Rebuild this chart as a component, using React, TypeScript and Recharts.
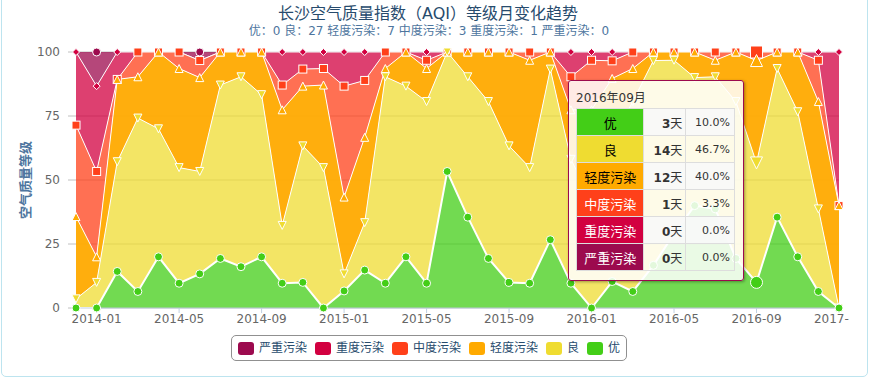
import React from 'react';
import { AreaChart, Area, XAxis, YAxis, CartesianGrid, Tooltip } from 'recharts';

const FONT = '"DejaVu Sans", "Noto Sans CJK SC", sans-serif';

// months on the x axis (first point is Dec 2013, ticks start at 2014-01)
const months = [
  '2013-12',
  '2014-01', '2014-02', '2014-03', '2014-04', '2014-05', '2014-06',
  '2014-07', '2014-08', '2014-09', '2014-10', '2014-11', '2014-12',
  '2015-01', '2015-02', '2015-03', '2015-04', '2015-05', '2015-06',
  '2015-07', '2015-08', '2015-09', '2015-10', '2015-11', '2015-12',
  '2016-01', '2016-02', '2016-03', '2016-04', '2016-05', '2016-06',
  '2016-07', '2016-08', '2016-09', '2016-10', '2016-11', '2016-12',
  '2017-01',
];

// days per month in each AQI level
const excellent = [0, 0, 4, 2, 6, 3, 4, 6, 5, 6, 3, 3, 0, 2, 4, 3, 6, 3, 16, 11, 6, 3, 3, 8, 3, 0, 3, 2, 5, 9, 12, 12, 6, 3, 11, 6, 2, 0];
const good = [1, 3, 12, 21, 15, 14, 12, 21, 23, 19, 7, 16, 17, 2, 5, 25, 20, 22, 14, 17, 19, 16, 14, 20, 15, 13, 16, 23, 24, 21, 15, 16, 19, 14, 18, 17, 10, 0];
const light = [9, 3, 9, 5, 9, 12, 11, 4, 3, 5, 14, 7, 10, 9, 9, 1, 4, 4, 0, 3, 6, 11, 13, 2, 6, 11, 7, 4, 1, 1, 3, 2, 6, 12, 2, 7, 13, 2];
const moderate = [10, 10, 0, 3, 0, 2, 2, 0, 0, 0, 3, 2, 2, 13, 6, 2, 0, 1, 0, 0, 0, 0, 1, 0, 4, 6, 2, 2, 0, 0, 0, 1, 0, 1, 0, 0, 5, 0];
const heavy = [8, 10, 3, 0, 0, 0, 0, 0, 0, 0, 4, 2, 2, 4, 3, 0, 0, 1, 0, 0, 0, 0, 0, 0, 3, 1, 1, 0, 0, 0, 0, 0, 0, 0, 0, 0, 1, 3];
const severe = [0, 4, 0, 0, 0, 0, 1, 0, 0, 0, 0, 0, 0, 0, 0, 0, 0, 0, 0, 0, 0, 0, 0, 0, 0, 0, 0, 0, 0, 0, 0, 0, 0, 0, 0, 0, 0, 0];

const tickIndexes = months.map((_, i) => i).filter((i) => i % 4 === 1);

// legend / drawing order: top of the stack first
const levels = [
  { key: 'severe', name: '严重污染', color: '#9c0a4e', shape: 'circle', r: 4, text: '#fff', opacity: 0.75 },
  { key: 'heavy', name: '重度污染', color: '#d20040', shape: 'diamond', r: 4, text: '#fff', opacity: 0.75 },
  { key: 'moderate', name: '中度污染', color: '#ff401a', shape: 'square', r: 4, text: '#fff', opacity: 0.75 },
  { key: 'light', name: '轻度污染', color: '#ffaa00', shape: 'triangle', r: 4, text: '#000', opacity: 0.95 },
  { key: 'good', name: '良', color: '#efdc31', shape: 'triangle-down', r: 4, text: '#000', opacity: 0.75 },
  { key: 'excellent', name: '优', color: '#43ce17', shape: 'circle', r: 4, text: '#000', opacity: 0.75 },
];

const rows = months.map((m, i) => ({
  i,
  month: m,
  excellent: excellent[i],
  good: good[i],
  light: light[i],
  moderate: moderate[i],
  heavy: heavy[i],
  severe: severe[i],
}));

function marker(shape: string, cx: number, cy: number, r: number, fill: string, key?: string) {
  const common = { fill, stroke: '#fff', strokeWidth: 1 };
  if (shape === 'circle') return <circle key={key} cx={cx} cy={cy} r={r} {...common} />;
  if (shape === 'square') return <rect key={key} x={cx - r} y={cy - r} width={r * 2} height={r * 2} {...common} />;
  if (shape === 'triangle')
    return <path key={key} d={`M${cx},${cy - r}L${cx + r},${cy + r}L${cx - r},${cy + r}Z`} {...common} />;
  if (shape === 'triangle-down')
    return <path key={key} d={`M${cx - r},${cy - r}L${cx + r},${cy - r}L${cx},${cy + r}Z`} {...common} />;
  return <path key={key} d={`M${cx},${cy - r}L${cx + r},${cy}L${cx},${cy + r}L${cx - r},${cy}Z`} {...common} />;
}

const AqiTooltip = ({ active, payload }: any) => {
  if (!active || !payload || !payload.length) return null;
  const row = payload[0].payload;
  const total = levels.reduce((s, l) => s + row[l.key], 0);
  const [y, m] = row.month.split('-');
  const bottomFirst = [...levels].reverse();
  return (
    <div
      style={{
        width: 159,
        padding: '7px 8px 9px 7px',
        background: 'rgba(255,255,255,0.85)',
        border: '1px solid #9c0a4e',
        borderRadius: 3,
        boxShadow: '1px 1px 3px rgba(0,0,0,0.35)',
        fontFamily: FONT,
        color: '#333',
      }}
    >
      <div style={{ fontSize: 12, lineHeight: '20px', height: 20 }}>{`${y}年${m}月`}</div>
      <table style={{ borderCollapse: 'collapse', fontSize: 12 }}>
        <tbody>
          {bottomFirst.map((l, idx) => {
            const days = row[l.key];
            return (
              <tr key={l.key} style={{ height: 27 }}>
                <td style={{ width: 70, background: l.color, color: l.text, textAlign: 'center', border: '1px solid #ddd', padding: 0, fontSize: 13 }}>
                  {l.name}
                </td>
                <td style={{ width: 36, textAlign: 'right', border: '1px solid #ddd', padding: '0 3px', background: idx % 2 === 0 ? 'rgba(248,248,248,0.9)' : 'transparent' }}>
                  <b>{days}</b>天
                </td>
                <td style={{ width: 40, textAlign: 'right', border: '1px solid #ddd', padding: '0 4px', fontSize: 11, background: idx % 2 === 0 ? 'rgba(248,248,248,0.9)' : 'transparent' }}>
                  {((days / total) * 100).toFixed(1)}%
                </td>
              </tr>
            );
          })}
        </tbody>
      </table>
    </div>
  );
};

export default function App() {
  return (
    <div style={{ position: 'absolute', left: 0, top: 0, width: 882, height: 387, fontFamily: FONT, background: '#fff' }}>
      <div
        style={{
          position: 'absolute',
          left: 1,
          top: -6,
          width: 867,
          height: 383,
          boxSizing: 'border-box',
          border: '1px solid #bde4ef',
          borderRadius: 5,
        }}
      />
      <div style={{ position: 'absolute', left: 0, top: 4, width: 856, textAlign: 'center', fontSize: 16, lineHeight: '20px', color: '#274b6d' }}>
        长沙空气质量指数（AQI）等级月变化趋势
      </div>
      <div style={{ position: 'absolute', left: 0, top: 23, width: 858, textAlign: 'center', fontSize: 12, lineHeight: '16px', color: '#4d759e', whiteSpace: 'pre' }}>
        优：0 良：27 轻度污染：7 中度污染：3 重度污染：1 严重污染：0
      </div>
      <div
        style={{
          position: 'absolute',
          left: 24,
          top: 180,
          transform: 'translate(-50%, -50%) rotate(-90deg)',
          fontSize: 13,
          fontWeight: 'bold',
          color: '#4d759e',
          whiteSpace: 'nowrap',
        }}
      >
        空气质量等级
      </div>
      <div style={{ position: 'absolute', left: 0, top: 0 }}>
        <AreaChart
          width={849}
          height={330}
          data={rows}
          stackOffset="expand"
          reverseStackOrder
          margin={{ top: 52, right: 10, bottom: 0, left: 0 }}
        >
          <CartesianGrid vertical={false} stroke="#C0C0C0" />
          <XAxis
            type="number"
            dataKey="i"
            domain={[0, months.length - 1]}
            ticks={tickIndexes}
            interval={0}
            tickFormatter={(v: number) => months[v]}
            height={22}
            tickSize={5}
            tickMargin={1}
            stroke="#C0D0E0"
            tick={{ fill: '#666', fontSize: 12, fontFamily: FONT }}
          />
          <YAxis
            domain={[0, 1]}
            ticks={[0, 0.25, 0.5, 0.75, 1]}
            tickFormatter={(v: number) => String(Math.round(v * 100))}
            width={76}
            axisLine={false}
            tickLine={{ stroke: '#C0C0C0' }}
            tickSize={8}
            tickMargin={8}
            tick={{ fill: '#666', fontSize: 12, fontFamily: FONT }}
          />
          {levels.map((l) => (
            <Area
              key={l.key}
              type="linear"
              dataKey={l.key}
              name={l.name}
              stackId="aqi"
              stroke={l.key === 'severe' ? 'none' : '#fff'}
              strokeWidth={l.key === 'excellent' ? 2 : 1}
              fill={l.color}
              fillOpacity={l.opacity}
              isAnimationActive={false}
              dot={(p: any) =>
                l.key === 'severe' && !p.payload.severe
                  ? <g key={`${l.key}-${p.index}`} />
                  : marker(l.shape, p.cx, p.cy, l.key === 'heavy' ? 3.5 : l.r, l.color, `${l.key}-${p.index}`)
              }
              activeDot={(p: any) => marker(l.shape, p.cx, p.cy, l.r + 2, l.color)}
            />
          ))}
          <Tooltip
            defaultIndex={33}
            active
            position={{ x: 568, y: 80 }}
            cursor={false}
            isAnimationActive={false}
            content={<AqiTooltip />}
            wrapperStyle={{ outline: 'none' }}
          />
        </AreaChart>
      </div>
      <div
        style={{
          position: 'absolute',
          left: 231,
          top: 335,
          width: 396,
          height: 26,
          boxSizing: 'border-box',
          border: '1px solid #909090',
          borderRadius: 5,
          display: 'flex',
          alignItems: 'center',
          paddingLeft: 6,
          whiteSpace: 'nowrap',
        }}
      >
        {levels.map((l) => (
          <div key={l.key} style={{ display: 'flex', alignItems: 'center', marginRight: 8, flexShrink: 0 }}>
            <span style={{ width: 16, height: 13, borderRadius: 3, background: l.color, marginRight: 5, flexShrink: 0 }} />
            <span style={{ fontSize: 12, color: '#274b6d', lineHeight: '14px', whiteSpace: 'nowrap' }}>{l.name}</span>
          </div>
        ))}
      </div>
    </div>
  );
}
